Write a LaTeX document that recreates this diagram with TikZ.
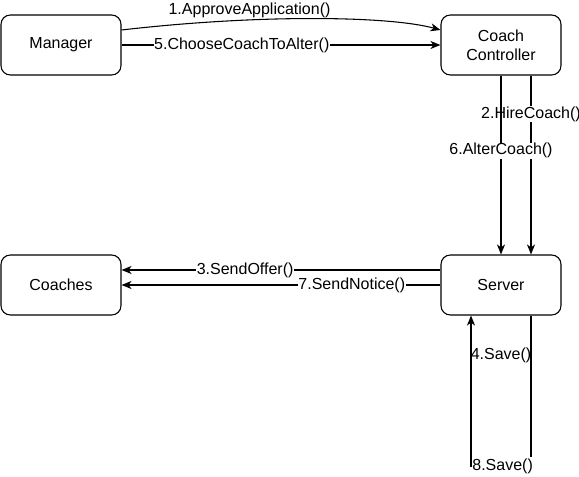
\documentclass[tikz,border=0pt]{standalone}
\usepackage{fontspec}
\setmainfont{Liberation Sans}
\usetikzlibrary{arrows.meta}

\begin{document}
\begin{tikzpicture}[x=0.75pt,y=-0.75pt,line width=0.8pt,
  font=\fontsize{12}{14.4}\selectfont,
  actor/.style={draw,rounded corners=7pt,minimum width=90pt,minimum height=45pt,inner sep=0pt,align=center},
  msg/.style={fill=white,inner sep=0.5pt},
  call/.style={-{Stealth[length=7.5pt,width=6pt,inset=2.2pt]}}]
\useasboundingbox (0,0) rectangle (579,477);
% the four parties
\node[actor] (manager) at (61,45) {Manager};
\node[actor] (controller) at (501,45) {Coach\\Controller};
\node[actor] (coaches) at (61,285) {Coaches};
\node[actor] (server) at (501,285) {Server};
% manager -> controller
\draw[call] ([yshift=11.25pt]manager.east) .. controls (260,14) and (390,16) .. node[msg,pos=0.32,yshift=7.5pt] {1.ApproveApplication()} ([yshift=11.25pt]controller.west);
\draw[call] (manager.east) -- node[msg,pos=0.377] {5.ChooseCoachToAlter()} (controller.west);
% controller -> server
\draw[call] ([xshift=22.5pt]controller.south) -- node[msg,pos=0.215] {2.HireCoach()} ([xshift=22.5pt]server.north);
\draw[call] (controller.south) -- node[msg,pos=0.42] {6.AlterCoach()} (server.north);
% server -> coaches
\draw[call] ([yshift=11.25pt]server.west) -- node[msg,pos=0.6125] {3.SendOffer()} ([yshift=11.25pt]coaches.east);
\draw[call] (server.west) -- node[msg,pos=0.278] {7.SendNotice()} (coaches.east);
% server -> server
\draw[call] ([xshift=22.5pt]server.south) -- ++(0,151) -| node[msg,inner xsep=0.6pt,inner ysep=1.5pt,pos=0.25,xshift=1.2pt] {8.Save()} ([xshift=-22.5pt]server.south);
\node (save) at (501,355) {4.Save()};
\end{tikzpicture}
\end{document}
